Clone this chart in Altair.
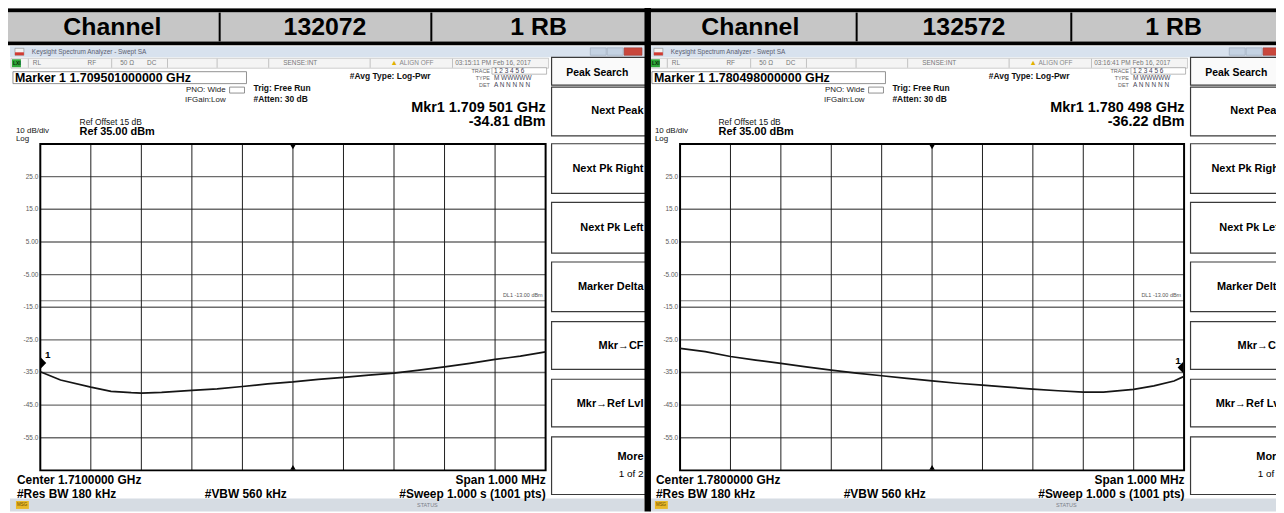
import altair as alt
import pandas as pd

FONT = "Liberation Sans"

# ------------------------------------------------------------------ data
header_left = ["Channel", "132072", "1 RB"]
header_right = ["Channel", "132572", "1 RB"]

left_freq_mhz = [1709.50, 1709.54, 1709.60, 1709.64, 1709.68, 1709.70, 1709.74, 1709.80,
                 1709.85, 1709.90, 1709.95, 1710.00, 1710.05, 1710.10, 1710.15, 1710.20,
                 1710.25, 1710.30, 1710.35, 1710.40, 1710.45, 1710.50]
left_level_dbm = [-34.8, -37.3, -39.5, -40.8, -41.2, -41.3, -41.1, -40.5,
                  -40.0, -39.3, -38.5, -37.9, -37.1, -36.5, -35.8, -35.2,
                  -34.3, -33.3, -32.2, -31.0, -30.0, -28.7]

right_freq_mhz = [1779.50, 1779.55, 1779.60, 1779.65, 1779.70, 1779.75, 1779.80, 1779.85,
                  1779.90, 1779.95, 1780.00, 1780.05, 1780.10, 1780.15, 1780.20, 1780.25,
                  1780.30, 1780.34, 1780.40, 1780.44, 1780.48, 1780.50]
right_level_dbm = [-27.6, -28.6, -30.1, -31.2, -32.2, -33.3, -34.3, -35.2,
                   -36.0, -36.8, -37.6, -38.3, -38.9, -39.5, -40.1, -40.6,
                   -41.0, -41.0, -40.2, -39.1, -37.6, -36.2]

left_marker = [1709.501, -34.81]
right_marker = [1780.498, -36.22]
left_center_mhz = 1710.0
right_center_mhz = 1780.0

left_freq_grid = [1709.5, 1709.6, 1709.7, 1709.8, 1709.9, 1710.0, 1710.1, 1710.2, 1710.3, 1710.4, 1710.5]
right_freq_grid = [1779.5, 1779.6, 1779.7, 1779.8, 1779.9, 1780.0, 1780.1, 1780.2, 1780.3, 1780.4, 1780.5]

ref_level_dbm = 35
bottom_level_dbm = -65
display_line_dbm = -13.0
display_line_label = "DL1 -13.00 dBm"
y_tick_values = [25, 15, 5, -5, -15, -25, -35, -45, -55]
y_tick_labels = ["25.0", "15.0", "5.00", "-5.00", "-15.0", "-25.0", "-35.0", "-45.0", "-55.0"]

left_info = {"marker": "Marker 1 1.709501000000 GHz", "time": "03:15:11 PM Feb 16, 2017",
             "mkr": "Mkr1 1.709 501 GHz", "lvl": "-34.81 dBm", "center": "Center 1.7100000 GHz"}
right_info = {"marker": "Marker 1 1.780498000000 GHz", "time": "03:16:41 PM Feb 16, 2017",
              "mkr": "Mkr1 1.780 498 GHz", "lvl": "-36.22 dBm", "center": "Center 1.7800000 GHz"}
softkeys = ["Next Peak", "Next Pk Right", "Next Pk Left", "Marker Delta", "Mkr\u2192CF", "Mkr\u2192Ref Lvl", "More"]

# ------------------------------------------------------------------ layout
OFF = 8            # page margin: reference pixel p -> chart pixel p - OFF
W, H = 1276, 505
SHIFT = 643        # right screenshot offset
GRID_TOP = 143.3 - OFF
GRID_BOT = 471.7 - OFF
LEFT_GX = (40.5 - OFF, 549.0 - OFF)
RIGHT_GX = (684.3 - OFF, 1191.5 - OFF)

rects = []
texts = []


def R(x, y, x2, y2, fill, stroke="transparent", sw=0):
    rects.append(dict(x=x - OFF, x2=x2 - OFF, y=y - OFF, y2=y2 - OFF, fill=fill, stroke=stroke, sw=sw))


def T(x, y, text, size, color="#000", weight="normal", align="left"):
    texts.append(dict(x=x - OFF, y=y - OFF, text=text, size=size, color=color, weight=weight, align=align))


# header table
R(0, 0, 1284, 8, "#c9c9c9")
R(0, 7, 1284, 11, "#000")
R(0, 11, 1284, 40, "#c6c6c6")
R(0, 40, 1284, 44, "#000")
for xd in (220, 433, 861, 1077):
    R(xd, 11, xd + 2, 40, "#000")
for cx, label in zip((113, 327, 542), header_left):
    T(cx, 25.5, label, 25, "#000", "bold", "center")
for cx, label in zip((755, 970, 1181), header_right):
    T(cx, 25.5, label, 25, "#000", "bold", "center")


def screenshot(s, info):
    # window title bar
    R(10 + s, 45, 648 + s, 56, "#d8e2ee")
    R(15 + s, 47, 24 + s, 54, "#f2f2f2", "#8a8a8a", 0.6)
    R(15 + s, 51, 24 + s, 54, "#d03a32")
    R(594 + s, 46.5, 610 + s, 54, "#c4d2e2", "#9aa8b8", 0.6)
    R(611 + s, 46.5, 627 + s, 54, "#c4d2e2", "#9aa8b8", 0.6)
    R(628 + s, 46.5, 646 + s, 54, "#c9473c", "#9a3a32", 0.6)
    T(32 + s, 51, "Keysight Spectrum Analyzer - Swept SA", 6.5, "#5a6070")
    # status row
    R(11 + s, 57, 552 + s, 67, "#f4f4f4", "#b0b0b0", 0.6)
    R(12 + s, 58, 21 + s, 66, "#2fa83a")
    for xd in (28, 112, 168, 218, 270, 372, 455):
        R(xd + s, 57.5, xd + 0.8 + s, 66.5, "#b4b4b4")
    T(13 + s, 62, "LXI", 5, "#0a2a0a", "bold")
    T(33 + s, 62, "RL", 6.5, "#777")
    T(88 + s, 62, "RF", 6.5, "#777")
    T(121 + s, 62, "50 \u03a9", 6.5, "#777")
    T(148 + s, 62, "DC", 6.5, "#777")
    T(285 + s, 62, "SENSE:INT", 6.5, "#777")
    T(393 + s, 61.5, "\u25b2", 7.5, "#e2b100")
    T(402 + s, 62, "ALIGN OFF", 6.5, "#888")
    T(458 + s, 62, info["time"], 6.5, "#777")
    # marker readout
    R(13 + s, 70.5, 248 + s, 82.5, "#ffffff", "#777777", 0.8)
    T(15 + s, 77, info["marker"], 12.5, "#000", "bold")
    T(227 + s, 88.5, "PNO: Wide", 8, "#222", "normal", "right")
    T(227 + s, 98.5, "IFGain:Low", 8, "#222", "normal", "right")
    R(231 + s, 86, 246 + s, 92, "#ffffff", "#777777", 0.8)
    T(255 + s, 87, "Trig: Free Run", 8.5, "#111", "bold")
    T(255 + s, 98, "#Atten: 30 dB", 8.5, "#111", "bold")
    T(352 + s, 75, "#Avg Type: Log-Pwr", 8.5, "#111", "bold")
    R(495 + s, 66.5, 550 + s, 73, "#ffffff", "#8a8a8a", 0.6)
    T(493 + s, 69.5, "TRACE", 5.5, "#666", "normal", "right")
    T(497 + s, 69.7, "1 2 3 4 5 6", 6.5, "#445")
    T(493 + s, 77, "TYPE", 5.5, "#666", "normal", "right")
    T(497 + s, 77, "M WWWWW", 6.5, "#445")
    T(493 + s, 84, "DET", 5.5, "#666", "normal", "right")
    T(497 + s, 84, "A N N N N N", 6.5, "#445")
    T(549 + s, 107, info["mkr"], 14.5, "#000", "bold", "right")
    T(549 + s, 121.5, info["lvl"], 14.5, "#000", "bold", "right")
    T(80 + s, 121, "Ref Offset 15 dB", 8.5, "#111")
    T(80 + s, 131.5, "Ref 35.00 dBm", 11, "#000", "bold")
    T(16 + s, 130, "10 dB/div", 8, "#111")
    T(16 + s, 138.5, "Log", 8, "#111")
    # bottom annotations
    T(17 + s, 481.5, info["center"], 12, "#000", "bold")
    T(549 + s, 481.5, "Span 1.000 MHz", 12, "#000", "bold", "right")
    T(17 + s, 495.5, "#Res BW 180 kHz", 12, "#000", "bold")
    T(206 + s, 495.5, "#VBW 560 kHz", 12, "#000", "bold")
    T(549 + s, 495.5, "#Sweep  1.000 s (1001 pts)", 12, "#000", "bold", "right")
    R(10 + s, 500, 648 + s, 513, "#d6dce3")
    R(16 + s, 502.5, 29 + s, 510.5, "#e8b828")
    T(17 + s, 506.5, "MSG", 4.5, "#6a4a00")
    T(430 + s, 507, "STATUS", 5.5, "#7a8088", "normal", "center")
    # softkey panel
    R(555 + s, 56, 652 + s, 84, "#fafafa", "#3a3a3a", 1.2)
    T(601 + s, 71.5, "Peak Search", 10.5, "#000", "bold", "center")
    spans = [(86, 135), (143, 193), (202, 253), (262, 312), (322, 370), (380, 428), (438, 496)]
    ys = [110, 168, 228, 287, 347, 405, 458]
    for (y0, y1), ty, key in zip(spans, ys, softkeys):
        R(555 + s, y0, 652 + s, y1, "#ffffff", "#3a3a3a", 1.2)
        T(647.5 + s, ty, key, 11, "#000", "bold", "right")
    T(647.5 + s, 475, "1 of 2", 10, "#000", "normal", "right")


screenshot(0, left_info)
screenshot(SHIFT, right_info)

overlay = pd.DataFrame([
    dict(x=648.5 - OFF, x2=655 - OFF, y=0 - OFF, y2=513 - OFF, fill="#000"),
    dict(x=0 - OFF, x2=5 - OFF, y=0 - OFF, y2=513 - OFF, fill="#000"),
])

# ------------------------------------------------------------------ charts
px = lambda f: alt.X(f, type="quantitative", scale=None, axis=None)
py = lambda f: alt.Y(f, type="quantitative", scale=None, axis=None)

rect_layer = alt.Chart(pd.DataFrame(rects)).mark_rect().encode(
    x=px("x"), x2="x2:Q", y=py("y"), y2="y2:Q",
    fill=alt.Fill("fill:N", scale=None),
    stroke=alt.Stroke("stroke:N", scale=None),
    strokeWidth=alt.StrokeWidth("sw:Q", scale=None),
)

tdf = pd.DataFrame(texts)
text_layers = []
for (w, a), sub in tdf.groupby(["weight", "align"]):
    text_layers.append(
        alt.Chart(sub.reset_index(drop=True)).mark_text(
            align=a, baseline="middle", fontWeight=w, font=FONT
        ).encode(
            x=px("x"), y=py("y"), text="text:N",
            size=alt.Size("size:Q", scale=None),
            color=alt.Color("color:N", scale=None),
        )
    )

overlay_layer = alt.Chart(overlay).mark_rect().encode(
    x=px("x"), x2="x2:Q", y=py("y"), y2="y2:Q", fill=alt.Fill("fill:N", scale=None)
)


def panel(freq, level, marker, grid, center, gx, marker_path, one_dx, one_dy):
    xs = alt.Scale(domain=[grid[0], grid[-1]], range=list(gx), nice=False, zero=False)
    ys = alt.Scale(domain=[bottom_level_dbm, ref_level_dbm], range=[GRID_BOT, GRID_TOP], nice=False, zero=False)
    X = lambda f: alt.X(f, type="quantitative", scale=xs, axis=None)
    Y = lambda f: alt.Y(f, type="quantitative", scale=ys, axis=None)
    f0, f1 = grid[0], grid[-1]

    vgrid = alt.Chart(pd.DataFrame({"f": grid[1:-1], "lo": bottom_level_dbm, "hi": ref_level_dbm})).mark_rule(
        color="#1e1e1e", strokeWidth=1).encode(x=X("f"), y=Y("lo"), y2="hi:Q")
    hgrid = alt.Chart(pd.DataFrame({"db": y_tick_values, "f0": f0, "f1": f1})).mark_rule(
        color="#6c6c6c", strokeWidth=1.4).encode(y=Y("db"), x=X("f0"), x2="f1:Q")
    dl_df = pd.DataFrame({"db": [display_line_dbm], "f0": [f0], "f1": [f1], "label": [display_line_label]})
    dl_rule = alt.Chart(dl_df).mark_rule(color="#7c7c7c", strokeWidth=1.1).encode(
        y=Y("db"), x=X("f0"), x2="f1:Q")
    dl_text = alt.Chart(dl_df).mark_text(align="right", baseline="middle", dx=-3, dy=-6,
                                         fontSize=5.5, color="#555", font=FONT).encode(
        x=X("f1"), y=Y("db"), text="label:N")
    frame = alt.Chart(pd.DataFrame({"f0": [f0], "f1": [f1], "lo": [bottom_level_dbm], "hi": [ref_level_dbm]})).mark_rect(
        fillOpacity=0, stroke="#000", strokeWidth=2).encode(x=X("f0"), x2="f1:Q", y=Y("lo"), y2="hi:Q")
    labels = alt.Chart(pd.DataFrame({"db": y_tick_values, "label": y_tick_labels, "f0": f0})).mark_text(
        align="right", baseline="middle", dx=-2, fontSize=6.5, color="#5a5a5a", font=FONT).encode(
        x=X("f0"), y=Y("db"), text="label:N")
    trace = alt.Chart(pd.DataFrame({"freq": freq, "level": level})).mark_line(
        color="#151515", strokeWidth=1.7).encode(x=X("freq"), y=Y("level"))
    tri_top = alt.Chart(pd.DataFrame({"f": [center], "db": [ref_level_dbm]})).mark_point(
        shape="triangle-down", filled=True, color="#000", opacity=1, size=30, yOffset=3).encode(x=X("f"), y=Y("db"))
    tri_bot = alt.Chart(pd.DataFrame({"f": [center], "db": [bottom_level_dbm]})).mark_point(
        shape="triangle-up", filled=True, color="#000", opacity=1, size=30, yOffset=-3).encode(x=X("f"), y=Y("db"))
    mk_df = pd.DataFrame({"freq": [marker[0]], "level": [marker[1]], "label": ["1"]})
    mk_pt = alt.Chart(mk_df).mark_point(shape=marker_path, filled=True, color="#000", opacity=1,
                                        size=121, yOffset=-9).encode(x=X("freq"), y=Y("level"))
    mk_lbl = alt.Chart(mk_df).mark_text(align="center", baseline="middle", dx=one_dx, dy=one_dy,
                                        fontSize=10, fontWeight="bold", color="#000", font=FONT).encode(
        x=X("freq"), y=Y("level"), text="label:N")
    return alt.layer(hgrid, dl_rule, vgrid, frame, labels, dl_text, trace, tri_top, tri_bot, mk_pt, mk_lbl)


left_panel = panel(left_freq_mhz, left_level_dbm, left_marker, left_freq_grid, left_center_mhz,
                   LEFT_GX, "M0,-1L1,0L0,1Z", 7, -17)
right_panel = panel(right_freq_mhz, right_level_dbm, right_marker, right_freq_grid, right_center_mhz,
                    RIGHT_GX, "M0,-1L-1,0L0,1Z", -5, -16)

chart = alt.layer(
    rect_layer, left_panel, right_panel, *text_layers, overlay_layer
).resolve_scale(
    x="independent", y="independent"
).properties(
    width=W, height=H, padding=0, autosize=alt.AutoSizeParams(type="none")
).configure_view(strokeWidth=0)

chart.save("out.html", embed_options={"renderer": "svg", "actions": False})
